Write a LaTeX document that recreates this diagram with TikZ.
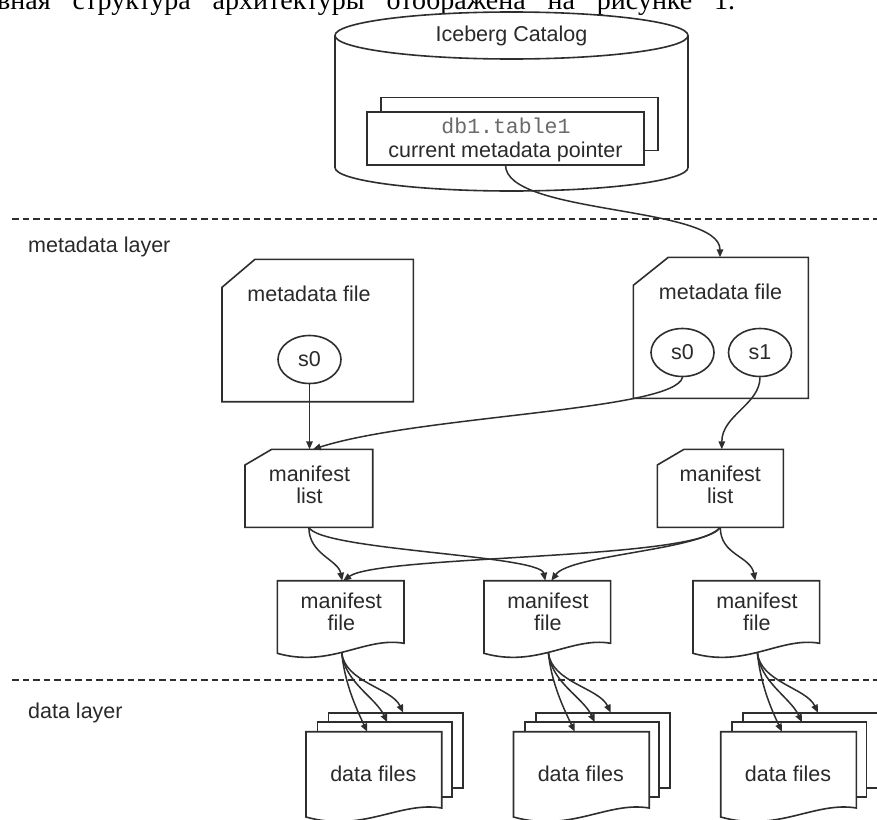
\documentclass[tikz,border=0pt]{standalone}
\usepackage{fontspec}
\setmainfont{Liberation Sans}
\newfontfamily\rufont{Liberation Serif}
\newfontfamily\monofnt{Liberation Mono}
\usetikzlibrary{arrows.meta,shapes.geometric,calc}
\definecolor{ink}{HTML}{2E2E2E}
\definecolor{txt}{HTML}{2A2A2A}
\definecolor{monogray}{HTML}{6A6A6A}
\tikzset{
  frame/.style={inner sep=0pt, outer sep=0pt, draw=none},
  shapeline/.style={draw=ink, line width=1.6pt, fill=white, line join=miter},
  boxnode/.style={draw=ink, line width=1.6pt, fill=white, inner sep=0pt, outer sep=0pt},
  lbl/.style={inner sep=0pt, text=txt, font=\fontsize{21.5}{22}\selectfont, anchor=base},
  conn/.style={draw=ink, line width=1.5pt, -{Triangle[length=8pt,width=6.5pt]}},
  layerline/.style={draw=ink, line width=1.5pt, dash pattern=on 6.5pt off 4pt},
  snap/.style={ellipse, draw=ink, line width=1.6pt, fill=white, inner sep=0pt,
    minimum width=63pt, minimum height=48pt, text=txt, font=\fontsize{21.5}{22}\selectfont},
}
\begin{document}
\begin{tikzpicture}[x=1pt,y=1pt]
\useasboundingbox (0,0) rectangle (877,-819);
\clip (0,0) rectangle (877,-819);
\fill[white] (0,0) rectangle (877,-819);

% clipped line of running text above the figure
\node[anchor=base west, inner sep=0pt, font=\rufont\fontsize{28}{30}\selectfont, text=black] (ru) at (-3,-9.8)
  {\makebox[738pt][s]{\llap{Осно}вная структура архитектуры отображена на рисунке 1.}};

% layer separators
\coordinate (lay1a) at (12,-219); \coordinate (lay1b) at (877,-219);
\coordinate (lay2a) at (12,-680); \coordinate (lay2b) at (877,-680);
\draw[layerline] (lay1a) -- (lay1b);
\draw[layerline] (lay2a) -- (lay2b);
\node[lbl, anchor=base west] (mdlayer) at (28,-252.7) {metadata layer};
\node[lbl, anchor=base west] (dlayer) at (28,-718) {data layer};

% catalog cylinder
\path[shapeline] (335,-35.5) -- (335,-167.5) arc[start angle=180, end angle=360, x radius=176.5, y radius=23.5] -- (688,-35.5);
\path[shapeline] (511.5,-35.5) ellipse [x radius=176.5, y radius=23.5];
\node[lbl] (cattxt) at (511.5,-41.7) {Iceberg Catalog};
\node[boxnode, minimum width=277pt, minimum height=53.3pt] (ptrback) at (519.5,-123.95) {};
\node[boxnode, minimum width=277pt, minimum height=53.3pt] (ptr) at (505.5,-138.35) {};
\node[lbl, font=\monofnt\fontsize{21.5}{22}\selectfont, text=monogray] (ptrname) at (506,-133) {db1.table1};
\node[lbl] (ptrtxt) at (505.5,-157) {current metadata pointer};

% metadata files
\node[frame, minimum width=191.3pt, minimum height=142.4pt] (md1) at (317.65,-330.5) {};
\path[shapeline] ([yshift=-28pt]md1.north west) -- ([xshift=33pt]md1.north west) -- (md1.north east) -- (md1.south east) -- (md1.south west) -- cycle;
\node[lbl] (md1t) at (309,-301) {metadata file};
\node[snap] (md1s0) at (309.5,-359.5) {s0};

\node[frame, minimum width=175pt, minimum height=141pt] (md2) at (720.8,-327.8) {};
\path[shapeline] ([yshift=-28pt]md2.north west) -- ([xshift=35pt]md2.north west) -- (md2.north east) -- (md2.south east) -- (md2.south west) -- cycle;
\node[lbl] (md2t) at (720.5,-299) {metadata file};
\node[snap] (md2s0) at (682.5,-352.5) {s0};
\node[snap] (md2s1) at (760,-352.5) {s1};

% manifest lists
\node[frame, minimum width=127.7pt, minimum height=78pt] (ml1) at (308.85,-488.3) {};
\path[shapeline] ([yshift=-15.7pt]ml1.north west) -- ([xshift=26.7pt]ml1.north west) -- (ml1.north east) -- (ml1.south east) -- (ml1.south west) -- cycle;
\node[lbl] (ml1t) at (309.5,-481.7) {manifest};
\node[lbl] (ml1u) at (309.5,-503.3) {list};

\node[frame, minimum width=126pt, minimum height=78pt] (ml2) at (720.3,-488.3) {};
\path[shapeline] ([yshift=-15.7pt]ml2.north west) -- ([xshift=26.7pt]ml2.north west) -- (ml2.north east) -- (ml2.south east) -- (ml2.south west) -- cycle;
\node[lbl] (ml2t) at (720.3,-481.7) {manifest};
\node[lbl] (ml2u) at (720.3,-503.3) {list};

% manifest files
\foreach \n/\cx in {1/340.65, 2/547.3, 3/756.3} {
  \node[frame, minimum width=126.7pt, minimum height=72.6pt] (mf\n) at (\cx,-617) {};
  \path[shapeline] (mf\n.south west) -- (mf\n.north west) -- (mf\n.north east) -- ([yshift=10pt]mf\n.south east)
     .. controls +(-39,7) and +(53,-15) .. (mf\n.south west) -- cycle;
  \node[lbl] (mft\n) at (\cx+0.65,-608.3) {manifest};
  \node[lbl] (mfu\n) at (\cx+0.65,-630.7) {file};
}

% data file stacks
\foreach \n/\X in {1/306, 2/513.5, 3/720.7} {
  \node[boxnode, minimum width=134.4pt, minimum height=75pt] (dfa\n) at (\X+89.5,-750.2) {};
  \node[boxnode, minimum width=134.4pt, minimum height=75pt] (dfb\n) at (\X+78.5,-759.7) {};
  \node[frame, minimum width=135.7pt, minimum height=85.3pt] (dfc\n) at (\X+67.85,-774.35) {};
  \path[shapeline] (dfc\n.south west) -- (dfc\n.north west) -- (dfc\n.north east) -- ([yshift=9pt]dfc\n.south east)
     .. controls +(-42,7) and +(57,-16) .. (dfc\n.south west) -- cycle;
  \node[lbl] (dft\n) at (\X+67.3,-781.7) {data files};
  \draw[conn] ([xshift=1pt,yshift=1pt]mf\n.south) .. controls +(3,-30) and +(-12,25) .. ([xshift=-6.55pt]dfc\n.north);
  \draw[conn] ([xshift=1pt,yshift=1pt]mf\n.south) .. controls +(3,-30) and +(-12,25) .. ([xshift=2.8pt]dfb\n.north);
  \draw[conn] ([xshift=1pt,yshift=1pt]mf\n.south) .. controls +(3,-30) and +(-12,25) .. ([xshift=7.8pt]dfa\n.north);
}

% connectors
\draw[conn] (ptr.south) .. controls +(0,-50) and +(0,52) .. ([xshift=-0.8pt]md2.north);
\draw[conn] (md1s0.south) -- (md1s0.south |- ml1.north);
\draw[conn] (md2s0.south) .. controls +(-7.5,-33.5) and +(107,34) .. ([xshift=4pt]ml1.north);
\draw[conn] (md2s1.south) .. controls +(0,-27) and +(0,34) .. ([xshift=1.5pt]ml2.north);

\draw[conn] (ml1.south) .. controls +(0,-27) and +(-4,21) .. ([xshift=1.5pt]mf1.north);
\draw[conn] (ml1.south) .. controls +(11,-23) and +(-5.3,25.7) .. ([xshift=-2pt]mf2.north);
\draw[conn] (ml2.south) .. controls +(-20,-33) and +(37,26) .. ([xshift=2.5pt]mf1.north);
\draw[conn] (ml2.south) .. controls +(-20,-23) and +(19,26) .. ([xshift=4pt]mf2.north);
\draw[conn] (ml2.south) .. controls +(0,-28) and +(-5,25) .. ([xshift=-1pt]mf3.north);
\end{tikzpicture}
\end{document}
